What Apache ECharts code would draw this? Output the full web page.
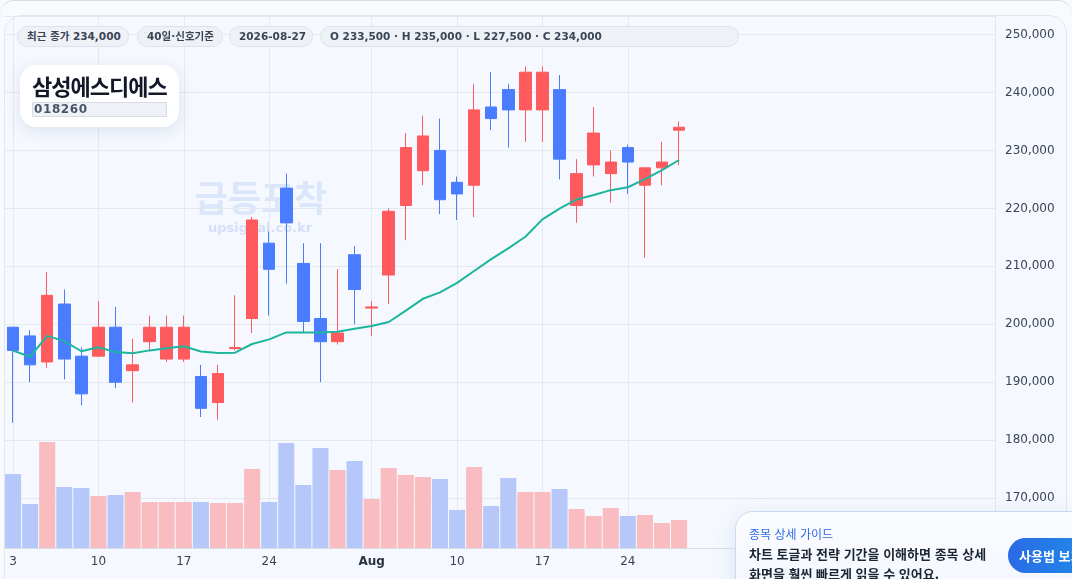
<!DOCTYPE html>
<html lang="ko">
<head>
<meta charset="utf-8">
<title>삼성에스디에스 018260</title>
<script src="https://cdn.jsdelivr.net/npm/echarts@6.0.0/dist/echarts.min.js"></script>
<style>
  html, body { margin: 0; padding: 0; background: #f8fafd; }
  body { font-family: "DejaVu Sans", "Noto Sans CJK KR", sans-serif; }
  #wrap { position: relative; width: 1072px; height: 579px; overflow: hidden; }
  #frame { position: absolute; left: 0; top: 0; width: 1072px; height: 640px; box-sizing: border-box;
    border-top: 1px solid #d8dee8; border-radius: 14px; background: #f8fafd; }
  #card { position: absolute; left: 4px; top: 15px; width: 1063px; height: 640px; box-sizing: border-box;
    border: 1px solid #e1e7f0; border-radius: 18px; background: #f5f8fe; }
  #chart { position: absolute; left: 0; top: 0; width: 1072px; height: 579px; }
  .chip { position: absolute; top: 26px; height: 21px; line-height: 19px; box-sizing: border-box;
    padding-left: 9px; border: 1px solid #dde3ec; border-radius: 11px; background: #eef2f7;
    color: #3b4555; font-size: 10.5px; font-weight: bold; white-space: nowrap; }
  #title { position: absolute; left: 20px; top: 65px; width: 159px; height: 62px; background: #fff;
    border-radius: 16px; box-shadow: 0 4px 16px rgba(30, 55, 100, 0.11); }
  #title .name { position: absolute; left: 12px; top: 4px; font-family: "Noto Sans CJK KR";
    font-weight: 700; font-size: 22px; letter-spacing: -1px; color: #111827; line-height: 32px; white-space: nowrap; }
  #title .code { position: absolute; left: 12px; top: 37px; width: 135px; height: 15px; box-sizing: border-box;
    border: 1px solid #d6dce6; background: #eef2f7; color: #4a5466; font-size: 12px; font-weight: bold;
    letter-spacing: 0.6px; line-height: 13px; padding-left: 1px; }
  #guide { position: absolute; left: 735px; top: 511px; width: 380px; height: 110px; box-sizing: border-box;
    border: 1px solid #c9d8f4; border-radius: 18px; background: linear-gradient(180deg, #fbfcff, #f1f5fe);
    box-shadow: 0 6px 22px rgba(40, 80, 160, 0.12); font-family: "Noto Sans CJK KR"; }
  #guide .lbl { position: absolute; left: 13px; top: 13px; font-size: 12px; color: #2d6be4; line-height: 18px; }
  #guide .txt { position: absolute; left: 13px; top: 32px; width: 250px; font-size: 13px; font-weight: 700;
    color: #1c2533; line-height: 20px; }
  #guide .btn { position: absolute; left: 272px; top: 26px; width: 110px; height: 35px; border-radius: 18px;
    background: linear-gradient(90deg, #2b6ae6, #1b95ea); color: #fff; font-size: 13px; font-weight: 700;
    line-height: 35px; padding-left: 11px; box-sizing: border-box; white-space: nowrap; }
</style>
</head>
<body>
<div id="wrap">
  <div id="frame"></div>
  <div id="card"></div>
  <div id="chart"></div>
  <div class="chip" style="left:17px;width:112px">최근 종가 234,000</div>
  <div class="chip" style="left:137px;width:86px">40일·신호기준</div>
  <div class="chip" style="left:229px;width:84px">2026-08-27</div>
  <div class="chip" style="left:320px;width:419px">O 233,500 · H 235,000 · L 227,500 · C 234,000</div>
  <div id="title">
    <div class="name">삼성에스디에스</div>
    <div class="code">018260</div>
  </div>
  <div id="guide">
    <div class="lbl">종목 상세 가이드</div>
    <div class="txt">차트 토글과 전략 기간을 이해하면 종목 상세 화면을 훨씬 빠르게 읽을 수 있어요.</div>
    <div class="btn">사용법 보기</div>
  </div>
</div>
<script>
// 거래일 (40일)
const dates = [
  '2026-07-03',
  '2026-07-06', '2026-07-07', '2026-07-08', '2026-07-09', '2026-07-10',
  '2026-07-13', '2026-07-14', '2026-07-15', '2026-07-16', '2026-07-17',
  '2026-07-20', '2026-07-21', '2026-07-22', '2026-07-23', '2026-07-24',
  '2026-07-27', '2026-07-28', '2026-07-29', '2026-07-30', '2026-07-31',
  '2026-08-03', '2026-08-04', '2026-08-05', '2026-08-06', '2026-08-07',
  '2026-08-10', '2026-08-11', '2026-08-12', '2026-08-13', '2026-08-14',
  '2026-08-17', '2026-08-18', '2026-08-19', '2026-08-20', '2026-08-21',
  '2026-08-24', '2026-08-25', '2026-08-26', '2026-08-27'
];
const opens = [
  199500, 198000, 193500, 203500, 194500, 194500, 199500, 192000, 197000, 194000,
  194000, 191000, 186500, 195800, 201000, 214000, 223500, 210500, 201000, 197000,
  212000, 202800, 208500, 220500, 226500, 230000, 224500, 224000, 237500, 240500,
  237000, 237000, 240500, 220500, 227500, 226000, 230500, 224000, 227000, 233500
];
const closes = [
  195500, 193000, 205000, 194000, 188000, 199500, 190000, 193000, 199500, 199500,
  199500, 185500, 191500, 196000, 218000, 209500, 217500, 200500, 197000, 198500,
  206000, 203000, 219500, 230500, 232500, 221500, 222500, 237000, 235500, 237000,
  243500, 243500, 228500, 226000, 233000, 228000, 228000, 227000, 228000, 234000
];
const lows = [
  183000, 190000, 192500, 190500, 186000, 194500, 189000, 186500, 195500, 193500,
  193500, 184000, 183500, 195500, 198500, 201500, 207000, 198500, 190000, 196500,
  200000, 198000, 203500, 214500, 224000, 219000, 218000, 218500, 233500, 230500,
  231500, 231500, 225000, 217500, 225500, 221000, 222500, 211500, 224000, 227500
];
const highs = [
  199500, 199000, 209000, 206000, 196000, 204000, 203000, 197500, 201500, 201500,
  201500, 193000, 193000, 205000, 218500, 216000, 226000, 214000, 214000, 209500,
  213500, 204000, 220000, 233000, 236000, 235500, 225500, 241500, 243500, 241500,
  244500, 244500, 243000, 228500, 237500, 230000, 231000, 227000, 231500, 235000
];
// 이동평균선
const ma20 = [
  195450, 194400, 198000, 197100, 195350, 196050, 195200, 195000, 195500, 195850,
  196200, 195300, 195050, 195100, 196600, 197400, 198600, 198600, 198600, 198700,
  199250, 199700, 200400, 202350, 204400, 205500, 207150, 209200, 211250, 213100,
  215100, 218100, 219950, 221550, 222300, 223150, 223650, 225050, 226600, 228350
];
const volumes = [
  296000, 176000, 424000, 244000, 240000, 208000, 212000, 224000, 184000, 184000,
  184000, 184000, 180000, 180000, 316000, 184000, 420000, 252000, 400000, 312000,
  348000, 196000, 320000, 292000, 284000, 276000, 152000, 324000, 168000, 280000,
  224000, 224000, 236000, 156000, 128000, 160000, 128000, 132000, 100000, 112000
];
const tickDates = ['2026-07-03', '2026-07-10', '2026-07-17', '2026-07-24', '2026-08-03', '2026-08-10', '2026-08-17', '2026-08-24'];
const monthNames = ['Jan', 'Feb', 'Mar', 'Apr', 'May', 'Jun', 'Jul', 'Aug', 'Sep', 'Oct', 'Nov', 'Dec'];
const padSlots = 18; // 오른쪽 빈 공간

const UP = '#ff5a5d';
const DOWN = '#4a7cff';
const UP_VOL = '#f9bcc0';
const DOWN_VOL = '#b6c8f9';
const MA_COLOR = '#1db59e';
const GRID_LINE = '#e4e9f0';

const axisDates = dates.concat(new Array(padSlots).fill(''));
const candleData = dates.map((d, i) => [opens[i], closes[i], lows[i], highs[i]]);
const volData = volumes.map((v, i) => ({
  value: v,
  itemStyle: { color: closes[i] >= opens[i] ? UP_VOL : DOWN_VOL }
}));

function isTick(index, value) {
  return tickDates.indexOf(value) >= 0;
}

function fmtDate(value, index) {
  if (!value) return '';
  const m = +value.slice(5, 7);
  const prev = dates[index - 1];
  if (prev && +prev.slice(5, 7) !== m) {
    return '{mon|' + monthNames[m - 1] + '}';
  }
  return String(+value.slice(8, 10));
}

const chart = echarts.init(document.getElementById('chart'), null, { renderer: 'canvas' });

const option = {
  animation: false,
  backgroundColor: 'transparent',
  textStyle: { fontFamily: '"DejaVu Sans", "Noto Sans CJK KR", sans-serif' },
  graphic: [{
    type: 'text',
    x: 261,
    y: 198,
    z: 0,
    style: {
      text: '급등포착',
      font: 'bold 36px "Noto Sans CJK KR"',
      fill: '#dce6fb',
      align: 'center',
      verticalAlign: 'middle'
    }
  }, {
    type: 'text',
    x: 260,
    y: 229,
    z: 0,
    style: {
      text: 'upsignal.co.kr',
      font: 'bold 13px "DejaVu Sans"',
      fill: '#d5e0f8',
      align: 'center',
      verticalAlign: 'middle'
    }
  }],
  grid: [{
    left: 4.5,
    right: 77,
    top: 16,
    bottom: 31
  }, {
    left: 4.5,
    right: 77,
    bottom: 31,
    height: 120
  }],
  xAxis: [{
    type: 'category',
    data: axisDates,
    boundaryGap: true,
    axisLine: { lineStyle: { color: '#dbe0e8' } },
    axisTick: { show: false },
    axisLabel: {
      interval: isTick,
      formatter: fmtDate,
      color: '#3a4352',
      fontSize: 12,
      margin: 8,
      rich: {
        mon: { fontWeight: 'bold', color: '#2a3342', fontSize: 12 }
      }
    },
    splitLine: {
      show: true,
      interval: isTick,
      alignWithLabel: true,
      lineStyle: { color: GRID_LINE, width: 1 }
    }
  }, {
    type: 'category',
    gridIndex: 1,
    data: axisDates,
    boundaryGap: true,
    show: false
  }],
  yAxis: [{
    type: 'value',
    position: 'right',
    min: 161400,
    max: 253200,
    splitNumber: 9,
    scale: true,
    axisLine: { show: true, lineStyle: { color: '#e2e7ef' } },
    axisTick: { show: false },
    axisLabel: {
      color: '#3c4554',
      fontSize: 12,
      margin: 10,
      showMinLabel: false,
      showMaxLabel: false,
      formatter: v => v.toLocaleString('en-US')
    },
    splitLine: { lineStyle: { color: GRID_LINE, width: 1 } }
  }, {
    type: 'value',
    gridIndex: 1,
    min: 0,
    max: 480000,
    show: false,
    splitLine: { show: false }
  }],
  series: [{
    name: '거래량',
    type: 'bar',
    xAxisIndex: 1,
    yAxisIndex: 1,
    barCategoryGap: '6%',
    data: volData,
    z: 1,
    silent: true
  }, {
    name: '일봉',
    type: 'candlestick',
    xAxisIndex: 0,
    yAxisIndex: 0,
    barWidth: 12,
    data: candleData,
    itemStyle: {
      color: UP,
      color0: DOWN,
      borderColor: UP,
      borderColor0: DOWN,
      borderWidth: 1
    },
    z: 3
  }, {
    name: 'MA20',
    type: 'line',
    xAxisIndex: 0,
    yAxisIndex: 0,
    data: ma20,
    symbol: 'none',
    smooth: false,
    lineStyle: { color: MA_COLOR, width: 2 },
    z: 4,
    silent: true
  }]
};

chart.setOption(option);
</script>
</body>
</html>
